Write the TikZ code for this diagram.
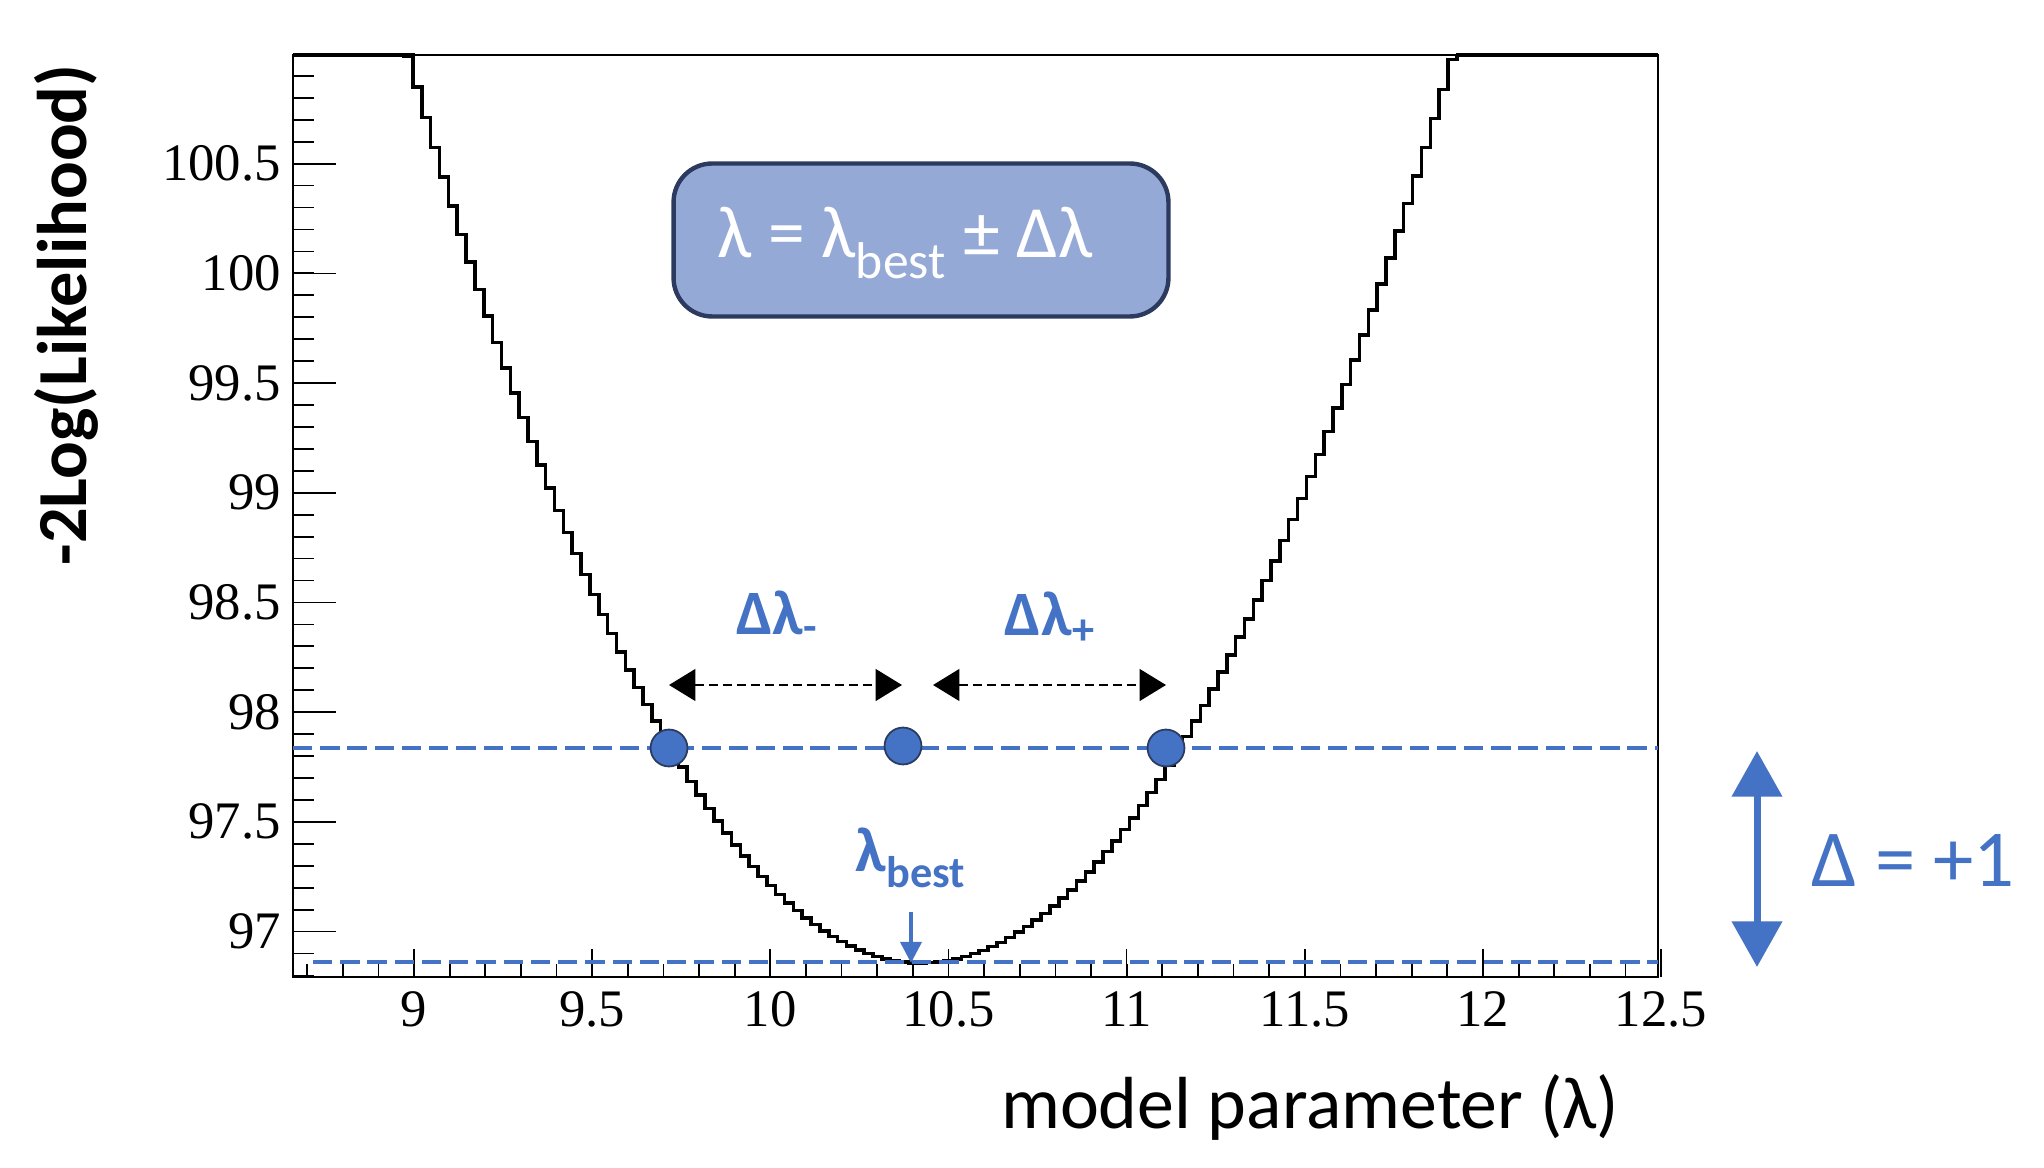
\documentclass[tikz,border=0pt]{standalone}
\usepackage{fontspec}
\setmainfont{Liberation Serif}
\newfontfamily\carl{Carlito}
\usetikzlibrary{arrows.meta}
\definecolor{pblue}{HTML}{4472C4}
\definecolor{boxfill}{HTML}{95A9D6}
\definecolor{boxline}{HTML}{2B3A5E}
\tikzset{
  ticklab/.style={font=\fontsize{30}{30}\selectfont},
  blabel/.style={text=pblue,font=\carl\bfseries\fontsize{36}{36}\selectfont},
  bluedash/.style={pblue,line width=2.6pt,dash pattern=on 11pt off 4.5pt},
  dot/.style={circle,fill=pblue,draw=boxline,line width=1pt,minimum size=21pt,inner sep=0pt},
  blk/.style={line width=1.4pt,dash pattern=on 5pt off 3pt,{Triangle[length=15pt,width=18pt]}-{Triangle[length=15pt,width=18pt]}}
}
\begin{document}
\begin{tikzpicture}[x=0.02cm,y=-0.02cm]
\useasboundingbox (0,0) rectangle (2044,1168);
% frame
\coordinate (fl) at (293,55); \coordinate (fr) at (1658,977);
% curve
\begin{scope}
\clip (293,55) rectangle (1658,977);
\draw[line width=2pt] plot[const plot,domain=8.6:12.3,samples=150]
  ({414+356.3*(\x-9)},{931.6-219.4*(96.857+(\x<10.41 ? 2.0 : 1.85)*(\x-10.41)^2-97)});
\end{scope}
\draw[line width=1.2pt] (fl) rectangle (fr);
\draw[line width=2.5pt] (293,55) -- (415,55) (1456,55) -- (1658,55);
% x ticks
\foreach \i in {0,...,38}{
  \pgfmathsetmacro\xx{414+356.3*(8.7+0.1*\i-9)}
  \draw[line width=1pt] (\xx,977) -- (\xx,964);}
\foreach \v in {9,9.5,10,10.5,11,11.5,12,12.5}{
  \pgfmathsetmacro\xx{414+356.3*(\v-9)}
  \draw[line width=1pt] (\xx,977) -- (\xx,949);
  \node[ticklab,anchor=north] (xl\v) at (\xx,985) {\v};}
% y ticks
\foreach \i in {0,...,41}{
  \pgfmathsetmacro\yy{931.6-219.4*(96.8+0.1*\i-97)}
  \draw[line width=1pt] (293,\yy) -- (314,\yy);}
\foreach \v in {97,97.5,98,98.5,99,99.5,100,100.5}{
  \pgfmathsetmacro\yy{931.6-219.4*(\v-97)}
  \draw[line width=1pt] (293,\yy) -- (336,\yy);
  \node[ticklab,anchor=east] (yl\v) at (287,\yy) {\v};}
% axis titles
\node[font=\carl\bfseries\fontsize{40}{40}\selectfont,rotate=90] (ytitle) at (66,315) {-2Log(Likelihood)};
\node[font=\carl\fontsize{42}{42}\selectfont] (xtitle) at (1310,1107) {model parameter (λ)};
% box
\node[draw=boxline,line width=2.5pt,fill=boxfill,rounded corners=22pt,
  minimum width=9.9cm,minimum height=3.06cm] (box) at (921,240) {};
\node[text=white,font=\carl\fontsize{42}{42}\selectfont] (formula) at (905,243) {λ = λ\textsubscript{best} ± Δλ};
% dashed lines
\coordinate (u1) at (293,748); \coordinate (u2) at (1658,748);
\coordinate (l1) at (313,962); \coordinate (l2) at (1658,962);
\draw[bluedash] (u1) -- (u2);
\draw[bluedash] (l1) -- (l2);
% dots
\node[dot] (d1) at (669,748) {};
\node[dot] (d2) at (903,746) {};
\node[dot] (d3) at (1166,748) {};
% black arrows
\coordinate (a1) at (669,685); \coordinate (a2) at (902,685);
\coordinate (a3) at (933,685); \coordinate (a4) at (1166,685);
\draw[blk] (a1) -- (a2);
\draw[blk] (a3) -- (a4);
\node[blabel] (dm) at (777,616) {Δλ\textsubscript{-}};
\node[blabel] (dp) at (1050,618) {Δλ\textsubscript{+}};
% lambda best
\node[blabel] (lb) at (911,858) {λ\textsubscript{best}};
\coordinate (lbs) at (911,912); \coordinate (lbt) at (911,963);
\draw[pblue,line width=2pt,-{Triangle[length=12pt,width=12pt]}] (lbs) -- (lbt);
% delta +1
\coordinate (da) at (1757,751); \coordinate (db) at (1757,967);
\draw[pblue,line width=4pt,{Triangle[length=26pt,width=28pt]}-{Triangle[length=26pt,width=28pt]}] (da) -- (db);
\node[text=pblue,font=\carl\fontsize{46}{46}\selectfont] (d1lab) at (1913,860) {Δ = +1};
\end{tikzpicture}
\end{document}
